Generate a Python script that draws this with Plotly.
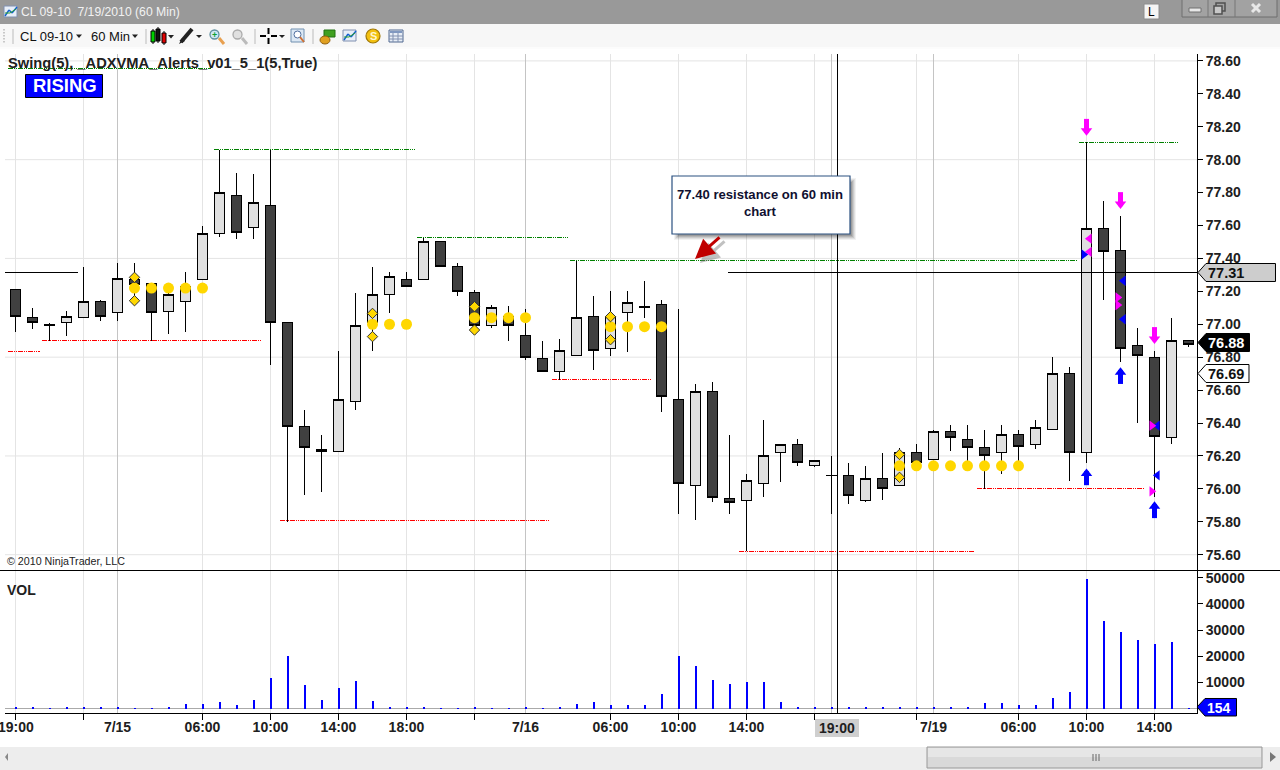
import plotly.graph_objects as go

W, H = 1280, 770

# ---------- data ----------
bars = list(range(70))
opens = [77.21,77.04,77.00,77.01,77.04,77.14,77.07,77.27,77.25,77.08,77.14,77.27,77.55,77.78,77.59,77.72,77.01,76.38,76.24,76.23,
         76.53,77.01,77.18,77.27,77.27,77.50,77.35,77.19,76.99,77.05,76.93,76.79,76.71,76.81,77.05,76.85,77.07,77.11,77.12,76.54,
         76.02,76.59,75.94,75.93,76.03,76.22,76.27,76.14,76.08,76.08,75.93,76.06,76.02,76.22,76.18,76.35,76.30,76.25,76.22,76.33,
         76.27,76.36,76.70,76.22,77.58,77.45,76.87,76.80,76.31,76.90]
highs = [77.21,77.10,77.01,77.08,77.35,77.15,77.37,77.37,77.25,77.19,77.32,77.60,78.06,77.92,77.91,78.06,77.01,76.48,76.33,76.84,
         77.19,77.35,77.32,77.32,77.53,77.50,77.37,77.21,77.12,77.11,77.09,76.90,76.91,77.39,77.17,77.20,77.20,77.26,77.15,77.09,
         76.64,76.65,76.33,76.09,76.42,76.27,76.30,76.17,76.20,76.16,76.14,76.22,76.25,76.27,76.36,76.39,76.39,76.36,76.39,76.36,
         76.42,76.80,76.74,78.11,77.75,77.66,76.98,76.84,77.04,76.90]
lows = [76.95,76.97,76.90,76.93,77.04,77.02,77.02,77.14,76.90,76.94,76.95,77.27,77.53,77.52,77.52,76.75,75.80,75.96,75.98,76.23,
        76.48,76.84,77.07,77.23,77.27,77.35,77.17,76.96,76.98,76.90,76.78,76.71,76.66,76.81,76.72,76.81,76.83,77.04,76.47,75.85,
        75.81,75.92,75.85,75.62,75.95,76.04,76.14,76.13,75.85,75.91,75.92,75.93,76.02,76.14,76.18,76.23,76.15,76.00,76.09,76.15,
        76.24,76.36,76.05,76.16,77.15,76.77,76.40,75.95,76.27,76.86]
closes = [77.05,77.01,76.99,77.05,77.14,77.05,77.28,77.24,77.07,77.18,77.23,77.55,77.80,77.56,77.74,77.01,76.38,76.25,76.23,76.54,
          76.99,77.18,77.29,77.23,77.50,77.35,77.20,76.99,77.10,76.99,76.80,76.71,76.84,77.04,76.84,77.05,77.13,77.10,76.56,76.03,
          76.59,75.95,75.92,76.05,76.20,76.27,76.16,76.17,76.08,75.96,76.06,76.00,76.22,76.16,76.35,76.31,76.25,76.20,76.33,76.26,
          76.37,76.70,76.22,77.58,77.44,76.85,76.81,76.32,76.90,76.88]
volumes = [200,200,150,200,600,200,200,150,150,600,1700,1700,2500,1300,3250,11700,20100,9000,3250,7850,
           10500,2900,600,200,200,150,150,200,150,150,200,150,200,1700,2500,1300,1300,1300,5500,20100,
           16250,10900,9400,10100,10100,2500,600,200,600,200,200,600,200,200,200,200,600,2100,2100,1300,
           1300,4000,6300,49500,33500,29300,26200,24700,25400,154]

swing_hi_start = [-0.43, 11.67, 23.6, 32.6, 62.55]
swing_hi_end = [11.5, 23.5, 32.5, 62.45, 68.45]
swing_hi_price = [78.555, 78.06, 77.53, 77.39, 78.105]
swing_lo_start = [-0.43, 1.57, 15.57, 31.57, 42.57, 56.57]
swing_lo_end = [1.45, 14.45, 31.45, 37.45, 56.45, 66.45]
swing_lo_price = [76.835, 76.90, 75.805, 76.665, 75.62, 76.00]

dot_x = [7,8,9,10,11, 21,22,23, 27,28,29,30, 35,36,37,38, 52,53,54,55,56,57,58,59]
dot_y = [77.22]*5 + [77.00]*3 + [77.04]*4 + [76.985]*4 + [76.14]*8
diamond_x = [7,7,21,21,27,27,35,35,52,52]
diamond_y = [77.285,77.143,77.066,76.925,77.107,76.965,77.046,76.906,76.209,76.07]

down_x = [63,65,67]
down_y = [78.19,77.745,76.925]
up_x = [63,65,67]
up_y = [76.08,76.695,75.88]

blue_right_x, blue_right_y = [62.84], [77.424]
blue_left_x = [65.17,65.17,67.17,67.17]
blue_left_y = [77.264,77.03,76.384,76.082]
mag_left_x = [63.17,63.17]
mag_left_y = [77.52,77.44]
mag_right_x = [64.84,64.84,66.84,66.84]
mag_right_y = [77.163,77.117,76.384,75.985]

price_ticks = [round(75.6+0.2*i,2) for i in range(16)]
price_grid = [78.6,78.0,77.4,76.8,76.2,75.6]
vol_ticks = [10000,20000,30000,40000,50000]
time_ticks = [0,4,11,15,19,23,27,35,39,43,47,53,59,63,67]
time_text = ["","","06:00","10:00","14:00","18:00","","06:00","10:00","14:00","","","06:00","10:00","14:00"]
date_ticks = [6,30,48,54]
date_text = ["7/15","7/16","","7/19"]

# ---------- layout in pixels ----------
px = lambda x: x/W
py = lambda y: 1-y/H
L, R = 5, 1197
T1, B1 = 54, 570
B2 = 713
x_lo, x_hi = (L-15.5)/17, (R-15.5)/17
FONT = "Liberation Sans"
shapes, anns = [], []

def rect(x0,y0,x1,y1,fill=None,line=None,w=1,layer="above",op=None):
    s = dict(type="rect",xref="paper",yref="paper",x0=px(x0),x1=px(x1),y0=py(y1),y1=py(y0),layer=layer,
             fillcolor=fill or "rgba(0,0,0,0)",line=dict(color=line or "rgba(0,0,0,0)",width=w if line else 0))
    if op is not None: s["opacity"]=op
    shapes.append(s)
def seg(x0,y0,x1,y1,color,w=1,layer="above"):
    shapes.append(dict(type="line",xref="paper",yref="paper",x0=px(x0),x1=px(x1),y0=py(y0),y1=py(y1),layer=layer,line=dict(color=color,width=w)))
def oval(x0,y0,x1,y1,fill,line=None,w=1):
    shapes.append(dict(type="circle",xref="paper",yref="paper",x0=px(x0),x1=px(x1),y0=py(y1),y1=py(y0),layer="above",
                       fillcolor=fill,line=dict(color=line or fill,width=w)))
def poly(pts,fill,line=None,w=1):
    p = "M"+" L".join(f"{px(a):.5f},{py(b):.5f}" for a,b in pts)+" Z"
    shapes.append(dict(type="path",xref="paper",yref="paper",path=p,layer="above",fillcolor=fill,line=dict(color=line or fill,width=w if line else 0)))
def txt(x,y,t,size=12,color="#000",anchor="left",bold=False,family=FONT):
    anns.append(dict(xref="paper",yref="paper",x=px(x),y=py(y),text=t,showarrow=False,xanchor=anchor,yanchor="middle",
                     font=dict(family=family,size=size,color=color,weight=700 if bold else 400),borderpad=0,borderwidth=0))

# window chrome
rect(0,0,1280,24,"#999999")
rect(0,24,1280,49,"#F7F7F7")
rect(0,47,1280,49,"#FCFCFC")
rect(0,747,1280,770,"#EDEDED")
rect(927,747,1262,768,"#D9D9D9","#999999")
rect(928,748,1261,757,"#E6E6E6")
for gx in (1093,1096,1099):
    seg(gx,754,gx,761,"#666666",1)
poly([(8,753),(8,761),(5,757)],"#888888")
poly([(1270,752),(1270,762),(1276,757)],"#777777")

def chart_icon(x,y):
    rect(x,y,x+13,y+11,"#E8EEF8","#8090B0")
    seg(x+1,y+10,x+5,y+4,"#1060D0",1.4); seg(x+5,y+4,x+8,y+7,"#1060D0",1.4); seg(x+8,y+7,x+13,y+1,"#1060D0",1.4)
    seg(x+1,y+7,x+6,y+7,"#30A030",1); seg(x+6,y+7,x+12,y+3,"#30A030",1)
chart_icon(4,6)
txt(21,12,"CL 09-10&nbsp;&nbsp;7/19/2010 (60 Min)",12.2,"#F2F2F2")
rect(1144,4,1159,19,"#F4F4F4","#8C8C8C",1)
txt(1151.5,12,"L",12,"#000","center")
rect(1182,-3,1277,17,"#A2A2A2","#6E6E6E",1)
seg(1208,0,1208,17,"#777777"); seg(1235,0,1235,17,"#777777")
rect(1189,8,1201,12,"#E8E8E8","#707070")
rect(1216,3,1225,11,"#A2A2A2","#505050",1.5); rect(1214,6,1222,14,"#C8C8C8","#505050",1.5)
seg(1252,4,1260,12,"#E8E8E8",3); seg(1260,4,1252,12,"#E8E8E8",3)

# toolbar items
for yy in (29,32,35,38,41):
    rect(3,yy,5,yy+1.5,"#C8C8C8")
seg(13,29,13,44,"#BBBBBB")
txt(20,36,"CL 09-10",13,"#111")
poly([(76,34.5),(82,34.5),(79,38)],"#222")
txt(91,36,"60 Min",13,"#111")
poly([(132,34.5),(138,34.5),(135,38)],"#222")
seg(146,29,146,44,"#BBBBBB")
for cx,c,a,b in ((153,"#00D000",31,42),(158,"#111111",29,41),(164,"#E00000",33,43)):
    seg(cx,a-2,cx,b+2,"#000",1); rect(cx-2,a,cx+2,b,c,"#000",1)
poly([(168,35),(174,35),(171,38.5)],"#222")
seg(181,42,192,29,"#222",4); poly([(179,44),(182,38),(185,41)],"#222")
poly([(196,35),(202,35),(199,38)],"#222")
seg(219,38,224,44,"#E8A050",3); oval(210,30,219,39,"#CDE8F4","#6090A0",1.3)
txt(214.5,34.5,"<b>+</b>",9,"#10A030","center")
seg(242,38,247,44,"#BBBBBB",3); oval(233,30,242,39,"#E0E0E0","#AAAAAA",1.3)
seg(255,29,255,44,"#BBBBBB")
seg(260,36,266,36,"#000",2); seg(271,36,277,36,"#000",2); seg(268.5,28,268.5,34,"#000",2); seg(268.5,38,268.5,44,"#000",2)
poly([(279,35),(285,35),(282,38)],"#222")
rect(291,29,304,42,"#DCE8F4","#7090B0"); oval(294,31,301,38,"#FFFFFF","#5070A0",1); seg(300,37,304,42,"#D07030",2)
seg(313,29,313,44,"#BBBBBB")
rect(324,30,335,37,"#40A020","#207010"); oval(320,36,330,44,"#E0A020","#906010")
chart_icon(343,30)
oval(366,29,380,43,"#F2C010","#A07808",1.2); txt(373,36,"<b>S</b>",11,"#FFF8D0","center")
rect(389,30,403,42,"#E8EEF6","#506890")
rect(390,31,402,33,"#8098C0")
for a in (393,398):
    seg(a,33,a,42,"#8090B0")
for b in (36,39):
    seg(389,b,403,b,"#8090B0")

# gridlines, dividers
for v in price_grid:
    shapes.append(dict(type="line",xref="paper",yref="y",x0=px(L),x1=px(R),y0=v,y1=v,layer="below",line=dict(color="#E4E4E4",width=1)))
seg(0,570.5,1280,570.5,"#000",1)
seg(L,272.5,78,272.5,"#000",1)
seg(728,272.5,R,272.5,"#000",1)
seg(837.5,T1,837.5,B2,"#000",1)

# callout
for k,op in ((6,0.05),(5,0.07),(4,0.09),(3,0.11),(2,0.13)):
    rect(676-k+4,180-k+4,850+k,234+k,"#000000",op=op)
rect(672,176,850,234,"#FFFFFF","#2A5080",1.2)
anns.append(dict(xref="paper",yref="paper",x=px(760),y=py(203),text="<b>77.40 resistance on 60 min<br>chart</b>",showarrow=False,
                 xanchor="center",yanchor="middle",align="center",font=dict(family=FONT,size=13.1,color="#101030")))
for dx,color in ((5,"rgba(120,120,120,0.45)"),(0,"#C00000")):
    anns.append(dict(xref="paper",yref="paper",x=px(695+dx),y=py(259+dx*0.8),ax=26,ay=-23,axref="pixel",ayref="pixel",text="",showarrow=True,
                     arrowhead=2,arrowsize=1.3,arrowwidth=3,arrowcolor=color))

# top-left text
txt(8,63,"Swing(5), _ADXVMA_Alerts_v01_5_1(5,True)",14.7,"#202020",bold=True)
rect(25.5,74.5,102.5,97.5,"#0000FF","#000",1)
txt(65,85.5,"RISING",18.5,"#FFFFFF","center",True)
txt(7,561,"© 2010 NinjaTrader, LLC",10.7,"#222")
txt(7,590,"VOL",14,"#202020",bold=True)
txt(15.5,727,"19:00",14,"#202020","center",True)

# price and volume tags
def tag(tipx,tipy,top,bot,right,fill,line,text,color,size):
    poly([(tipx,tipy),(tipx+8,top),(right,top),(right,bot),(tipx+8,bot)],fill,line,1)
    txt(tipx+9.5,(top+bot)/2+0.5,text,size,color,"left",True)
tag(1198,272.5,263.5,281.5,1275.5,"#CDCDCD","#000","77.31","#111",14.5)
tag(1198,342.5,333.5,351.5,1249.5,"#000000","#000","76.88","#FFF",14.5)
tag(1198,373.5,364.5,382.5,1249,"#FFFFFF","#000","76.69","#111",14.5)
tag(1197,707,698.5,716,1236.5,"#0000FF","#000","154","#FFF",14)
rect(815,719,859,737,"#CFCFCF")
txt(837,727.5,"19:00",14,"#202020","center",True)

# ---------- figure ----------
fig = go.Figure()
fig.add_trace(go.Candlestick(x=bars,open=opens,high=highs,low=lows,close=closes,xaxis="x",yaxis="y",whiskerwidth=0,
    increasing=dict(fillcolor="#E0E0E0",line=dict(color="#000",width=1)),
    decreasing=dict(fillcolor="#404040",line=dict(color="#000",width=1)),showlegend=False,hoverinfo="skip"))
DASH = "5px,1px,1px,1px,1px,1px"
for a,b,p in zip(swing_hi_start,swing_hi_end,swing_hi_price):
    fig.add_trace(go.Scatter(x=[a,b],y=[p,p],mode="lines",line=dict(color="#008000",width=1,dash=DASH),showlegend=False))
for a,b,p in zip(swing_lo_start,swing_lo_end,swing_lo_price):
    fig.add_trace(go.Scatter(x=[a,b],y=[p,p],mode="lines",line=dict(color="#FF0000",width=1,dash=DASH),showlegend=False))
fig.add_trace(go.Scatter(x=dot_x,y=dot_y,mode="markers",marker=dict(symbol="circle",size=11,color="#FFD700",line=dict(width=0)),showlegend=False))
fig.add_trace(go.Scatter(x=diamond_x,y=diamond_y,mode="markers",marker=dict(symbol="diamond",size=8,color="#FFD700",line=dict(color="#333",width=1)),showlegend=False))
fig.add_trace(go.Scatter(x=blue_right_x,y=blue_right_y,mode="markers",marker=dict(symbol="triangle-right",size=9,color="#0000FF",line=dict(width=0)),showlegend=False))
fig.add_trace(go.Scatter(x=blue_left_x,y=blue_left_y,mode="markers",marker=dict(symbol="triangle-left",size=9,color="#0000FF",line=dict(width=0)),showlegend=False))
fig.add_trace(go.Scatter(x=mag_left_x,y=mag_left_y,mode="markers",marker=dict(symbol="triangle-left",size=9,color="#FF00FF",line=dict(width=0)),showlegend=False))
fig.add_trace(go.Scatter(x=mag_right_x,y=mag_right_y,mode="markers",marker=dict(symbol="triangle-right",size=9,color="#FF00FF",line=dict(width=0)),showlegend=False))
# arrows: shaft + head
px_per_unit = 164.6
shaft_off, head_off = 2.5/px_per_unit, 2.3/px_per_unit
fig.add_trace(go.Scatter(x=down_x,y=[v+shaft_off for v in down_y],mode="markers",marker=dict(symbol="line-ns",size=10,color="#FF00FF",opacity=1,line=dict(color="#FF00FF",width=5)),showlegend=False))
fig.add_trace(go.Scatter(x=down_x,y=[v-head_off for v in down_y],mode="markers",marker=dict(symbol="triangle-down",size=10,color="#FF00FF",line=dict(width=0)),showlegend=False))
fig.add_trace(go.Scatter(x=up_x,y=[v-shaft_off for v in up_y],mode="markers",marker=dict(symbol="line-ns",size=10,color="#0000FF",opacity=1,line=dict(color="#0000FF",width=5)),showlegend=False))
fig.add_trace(go.Scatter(x=up_x,y=[v+head_off for v in up_y],mode="markers",marker=dict(symbol="triangle-up",size=10,color="#0000FF",line=dict(width=0)),showlegend=False))
# volume
fig.add_trace(go.Bar(x=bars,y=volumes,width=2/17,marker=dict(color="#0000FF",line=dict(width=0)),xaxis="x2",yaxis="y2",showlegend=False))
# date overlay axes carriers
fig.add_trace(go.Scatter(x=[None],y=[None],xaxis="x3",yaxis="y",showlegend=False))
fig.add_trace(go.Scatter(x=[None],y=[None],xaxis="x4",yaxis="y2",showlegend=False))

p_lo = 78.6-(B1-60.9)/px_per_unit
p_hi = 78.6+(60.9-T1)/px_per_unit
v_lo = -(B2-708.5)/26.15*10000
v_hi = (708.5-B1)/26.15*10000
dom_x = [px(L),px(R)]
tickfont = dict(family=FONT,size=14,color="#202020",weight=700)
fig.update_layout(
    width=W,height=H,autosize=False,margin=dict(l=0,r=0,t=0,b=0,pad=0),paper_bgcolor="#FFFFFF",plot_bgcolor="#FFFFFF",
    boxgap=0.41,boxgroupgap=0,showlegend=False,hovermode=False,bargap=0,
    shapes=shapes,annotations=anns,
    xaxis=dict(domain=dom_x,range=[x_lo,x_hi],anchor="y",rangeslider=dict(visible=False),showticklabels=False,ticks="",
               tickmode="array",tickvals=time_ticks,showgrid=True,gridcolor="#E4E4E4",gridwidth=1,zeroline=False,showline=False),
    xaxis2=dict(domain=dom_x,range=[x_lo,x_hi],anchor="y2",tickmode="array",tickvals=time_ticks,ticktext=time_text,
                ticks="outside",ticklen=6,tickcolor="#000",tickfont=tickfont,ticklabelstandoff=-5,showgrid=True,gridcolor="#E4E4E4",zeroline=False,
                showline=True,linecolor="#000",linewidth=1),
    xaxis3=dict(domain=dom_x,range=[x_lo,x_hi],anchor="y",overlaying="x",tickmode="array",tickvals=date_ticks,showticklabels=False,
                ticks="",showgrid=True,gridcolor="#C4C4C4",zeroline=False,showline=False),
    xaxis4=dict(domain=dom_x,range=[x_lo,x_hi],anchor="y2",overlaying="x2",tickmode="array",tickvals=date_ticks,ticktext=date_text,
                ticks="outside",ticklen=6,tickcolor="rgba(0,0,0,0)",tickfont=tickfont,ticklabelstandoff=-5,showgrid=True,gridcolor="#C4C4C4",zeroline=False,showline=False),
    yaxis=dict(domain=[py(B1),py(T1)],range=[p_lo,p_hi],anchor="x",side="right",tickmode="array",tickvals=price_ticks,
               ticktext=[f"{v:.2f}" for v in price_ticks],ticks="outside",ticklen=5,tickcolor="#000",tickfont=tickfont,
               showgrid=False,zeroline=False,showline=True,linecolor="#000",linewidth=1),
    yaxis2=dict(domain=[py(B2),py(B1)],range=[v_lo,v_hi],anchor="x2",side="right",tickmode="array",tickvals=vol_ticks,
                ticktext=[str(v) for v in vol_ticks],ticks="outside",ticklen=5,tickcolor="#000",tickfont=tickfont,
                showgrid=False,zeroline=True,zerolinecolor="#AAAAAA",zerolinewidth=1,showline=True,linecolor="#000",linewidth=1),
)
POST = ("document.body.style.margin='0';document.documentElement.style.overflow='hidden';"
        "var st=document.createElement('style');st.textContent='.js-line,.boxes path,.bars path{shape-rendering:crispEdges}';"
        "document.head.appendChild(st);")
fig.write_html("out.html",config=dict(displayModeBar=False),post_script=POST)
